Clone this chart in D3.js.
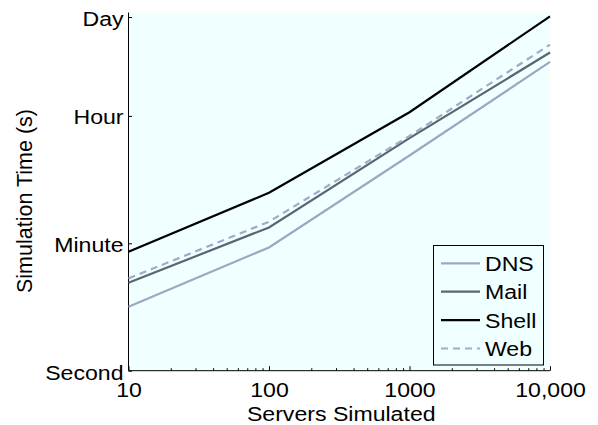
<!DOCTYPE html>
<html><head><meta charset="utf-8">
<script src="https://cdn.jsdelivr.net/npm/d3@7"></script>
<style>body{margin:0;background:#fff}svg{display:block}text{font-family:"Liberation Sans",Arial,sans-serif}</style>
</head><body><svg id="c" width="598" height="425"></svg>
<script>
const servers = [10, 100, 1000, 10000];
const seriesNames = ["DNS", "Mail", "Shell", "Web"];
const dnsValues = [7.8, 52.6, 1010, 20400];
const mailValues = [16.9, 100, 1760, 27600];
const shellValues = [45.7, 304, 4055, 88500];
const webValues = [19.4, 120, 1890, 35600];
const yTickValues = [1, 60, 3600, 86400];
const yTickLabels = ["Second", "Minute", "Hour", "Day"];
const xTickValues = [10, 100, 1000, 10000];
const xTickLabels = ["10", "100", "1000", "10,000"];

const styles = {
  DNS: {color: "#9ba8c2", dash: null},
  Mail: {color: "#5c6570", dash: null},
  Shell: {color: "#000000", dash: null},
  Web: {color: "#a0abc5", dash: "7,5"}
};
const valuesByName = {DNS: dnsValues, Mail: mailValues, Shell: shellValues, Web: webValues};

const svg = d3.select("#c");
const L = 128.5, R = 550, T = 12.5, B = 370.7;
const SX = 1.1;
const x = d3.scaleLog().domain([10, 10000]).range([L, R]);
const y = d3.scaleLog().domain([1, 1e5]).range([B, T]);

svg.append("rect").attr("x", L).attr("y", T).attr("width", R - L).attr("height", B - T).attr("fill", "#f0ffff");

// minor x ticks
const minor = [];
for (let d = 10; d < 10000; d *= 10) for (let k = 2; k <= 9; k++) minor.push(d * k);
svg.append("g").attr("transform", `translate(0,${B})`)
  .call(d3.axisBottom(x).tickValues(minor).tickSize(-2.5).tickFormat(""))
  .call(g => { g.select(".domain").remove(); g.selectAll("line").attr("stroke", "#000"); });

const xa = svg.append("g").attr("transform", `translate(0,${B})`)
  .call(d3.axisBottom(x).tickValues(xTickValues).tickSize(-4.5).tickSizeOuter(0).tickPadding(0)
    .tickFormat((d, i) => xTickLabels[i]));
xa.select(".domain").attr("stroke", "#000").attr("d", `M${L},0H${R}`);
xa.selectAll("line").attr("stroke", "#000");
xa.selectAll("text").attr("y", 26.5).attr("dy", null).attr("font-size", 21).attr("fill", "#000")
  .attr("transform", `scale(${SX},1)`);

const ya = svg.append("g").attr("transform", `translate(${L},0)`)
  .call(d3.axisLeft(y).tickValues(yTickValues).tickSize(-3.5).tickSizeOuter(0).tickPadding(0)
    .tickFormat((d, i) => yTickLabels[i]));
ya.select(".domain").attr("stroke", "#000").attr("d", `M0,${T}V${B}`);
ya.selectAll("line").attr("stroke", "#000");
ya.selectAll("text").attr("font-size", 21).attr("fill", "#000").attr("dy", null)
  .attr("x", -5 / SX).attr("y", 8)
  .attr("transform", `scale(${SX},1)`);
ya.selectAll(".tick").filter(d => d === 1).select("text").attr("y", 9);

const line = d3.line().x((d, i) => x(servers[i])).y(d => y(d));
seriesNames.forEach(n => {
  svg.append("path").datum(valuesByName[n]).attr("d", line)
    .attr("fill", "none").attr("stroke", styles[n].color).attr("stroke-width", 2.2)
    .attr("stroke-dasharray", styles[n].dash);
});

// axis titles
svg.append("text").attr("transform", `translate(${(L + R) / 2 + 2},421) scale(${SX},1)`)
  .attr("text-anchor", "middle").attr("font-size", 21).text("Servers Simulated");
svg.append("text").attr("transform", `translate(32,201) rotate(-90)`)
  .attr("text-anchor", "middle").attr("font-size", 21.5).text("Simulation Time (s)");

// legend
const lg = svg.append("g");
lg.append("rect").attr("x", 433.5).attr("y", 245.5).attr("width", 110).attr("height", 119.5)
  .attr("fill", "#f0ffff").attr("stroke", "#000").attr("stroke-width", 1);
seriesNames.forEach((n, i) => {
  const cy = 263.3 + i * 28.4;
  lg.append("line").attr("x1", 441).attr("x2", 480).attr("y1", cy).attr("y2", cy)
    .attr("stroke", styles[n].color).attr("stroke-width", 2.2).attr("stroke-dasharray", styles[n].dash);
  lg.append("text").attr("transform", `translate(485,${cy + 7.5}) scale(${SX},1)`)
    .attr("font-size", 21).text(n);
});
</script></body></html>
